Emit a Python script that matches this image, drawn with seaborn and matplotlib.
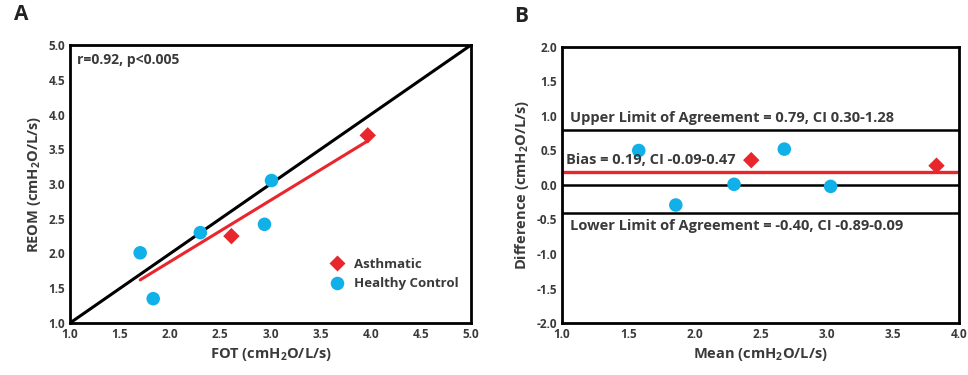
import numpy as np
import pandas as pd
import matplotlib.pyplot as plt
import seaborn as sns

# Panel A: FOT vs REOM
fot_asth = [2.61, 3.97]
reom_asth = [2.25, 3.70]
fot_hc = [1.70, 1.83, 2.30, 2.94, 3.01]
reom_hc = [2.01, 1.35, 2.30, 2.42, 3.05]
fit_x = [1.70, 3.97]
fit_y = [1.62, 3.62]

# Panel B: Bland-Altman
mean_asth = [2.43, 3.83]
diff_asth = [0.36, 0.28]
mean_hc = [1.58, 1.86, 2.30, 2.68, 3.03]
diff_hc = [0.50, -0.29, 0.01, 0.52, -0.02]
upper_loa = 0.79
bias = 0.19
lower_loa = -0.40

groups = ['Asthmatic', 'Healthy Control']
palette = {'Asthmatic': '#e8262b', 'Healthy Control': '#10b0e8'}
markers = {'Asthmatic': 'D', 'Healthy Control': 'o'}
sizes = {'Asthmatic': 70, 'Healthy Control': 95}

sns.set_style('white')
plt.rcParams['font.family'] = ['Open Sans', 'DejaVu Sans']
plt.rcParams['font.weight'] = 'bold'
plt.rcParams['axes.labelweight'] = 'bold'
plt.rcParams['mathtext.default'] = 'regular'
plt.rcParams['axes.unicode_minus'] = False

TXT = '#3a3a3a'

df_a = pd.DataFrame({
    'x': fot_asth + fot_hc,
    'y': reom_asth + reom_hc,
    'group': [groups[0]] * len(fot_asth) + [groups[1]] * len(fot_hc),
})
df_b = pd.DataFrame({
    'x': mean_asth + mean_hc,
    'y': diff_asth + diff_hc,
    'group': [groups[0]] * len(mean_asth) + [groups[1]] * len(mean_hc),
})

fig = plt.figure(figsize=(9.68, 3.75), dpi=100)
ax1 = fig.add_axes([70 / 968, 1 - 323 / 375, 401 / 968, 278 / 375])
ax2 = fig.add_axes([562 / 968, 1 - 323 / 375, 397 / 968, 276 / 375])

# --- A ---
ax1.plot([1, 5], [1, 5], color='black', lw=2.2, zorder=2)
ax1.plot(fit_x, fit_y, color='#e8262b', lw=2.2, zorder=2)
sns.scatterplot(data=df_a, x='x', y='y', hue='group', style='group',
                size='group', sizes=sizes,
                palette=palette, markers=markers, edgecolor='none',
                ax=ax1, zorder=3)
ax1.set_xlim(1, 5)
ax1.set_ylim(1, 5)
ax1.set_xticks(np.arange(1, 5.01, 0.5))
ax1.set_yticks(np.arange(1, 5.01, 0.5))
ax1.set_xlabel('FOT (cmH$_2$O/L/s)', fontsize=10.5, color=TXT)
ax1.set_ylabel('REOM (cmH$_2$O/L/s)', fontsize=10.5, color=TXT)
ax1.text(1.07, 4.72, 'r=0.92, p<0.005', fontsize=10, fontweight='bold', color=TXT)
leg = ax1.legend(loc='lower right', bbox_to_anchor=(1.0, 0.075), frameon=False,
                 fontsize=9.5, handletextpad=0.3, labelspacing=0.5)
for t in leg.get_texts():
    t.set_color(TXT)
ax1.text(-0.14, 1.09, 'A', transform=ax1.transAxes, fontsize=15,
         fontweight='bold', color='#222222')

# --- B ---
for yv in [upper_loa, 0.0, lower_loa]:
    ax2.axhline(yv, color='black', lw=1.8, zorder=2)
ax2.axhline(bias, color='#e8262b', lw=2.4, zorder=2)
sns.scatterplot(data=df_b, x='x', y='y', hue='group', style='group',
                size='group', sizes=sizes,
                palette=palette, markers=markers, edgecolor='none',
                ax=ax2, zorder=3, legend=False)
ax2.set_xlim(1, 4)
ax2.set_ylim(-2, 2)
ax2.set_xticks(np.arange(1, 4.01, 0.5))
ax2.set_yticks(np.arange(-2, 2.01, 0.5))
ax2.set_xlabel('Mean (cmH$_2$O/L/s)', fontsize=10.5, color=TXT)
ax2.set_ylabel('Difference (cmH$_2$O/L/s)', fontsize=10.5, color=TXT)
ax2.text(1.06, 0.92, f'Upper Limit of Agreement = {upper_loa:.2f}, CI 0.30-1.28',
         fontsize=10.5, color=TXT)
ax2.text(1.03, 0.30, f'Bias = {bias:.2f}, CI -0.09-0.47', fontsize=10.5, color=TXT)
ax2.text(1.06, -0.65, f'Lower Limit of Agreement = {lower_loa:.2f}, CI -0.89-0.09',
         fontsize=10.5, color=TXT)
ax2.text(-0.12, 1.09, 'B', transform=ax2.transAxes, fontsize=15,
         fontweight='bold', color='#222222')

for ax in (ax1, ax2):
    for sp in ax.spines.values():
        sp.set_visible(True)
        sp.set_color('black')
        sp.set_linewidth(2)
    ax.tick_params(direction='in', length=4, width=1.5, colors='black',
                   labelsize=8.5, labelcolor=TXT)
    for lbl in ax.get_xticklabels() + ax.get_yticklabels():
        lbl.set_fontweight('bold')

fig.savefig('out.png', dpi=100)
